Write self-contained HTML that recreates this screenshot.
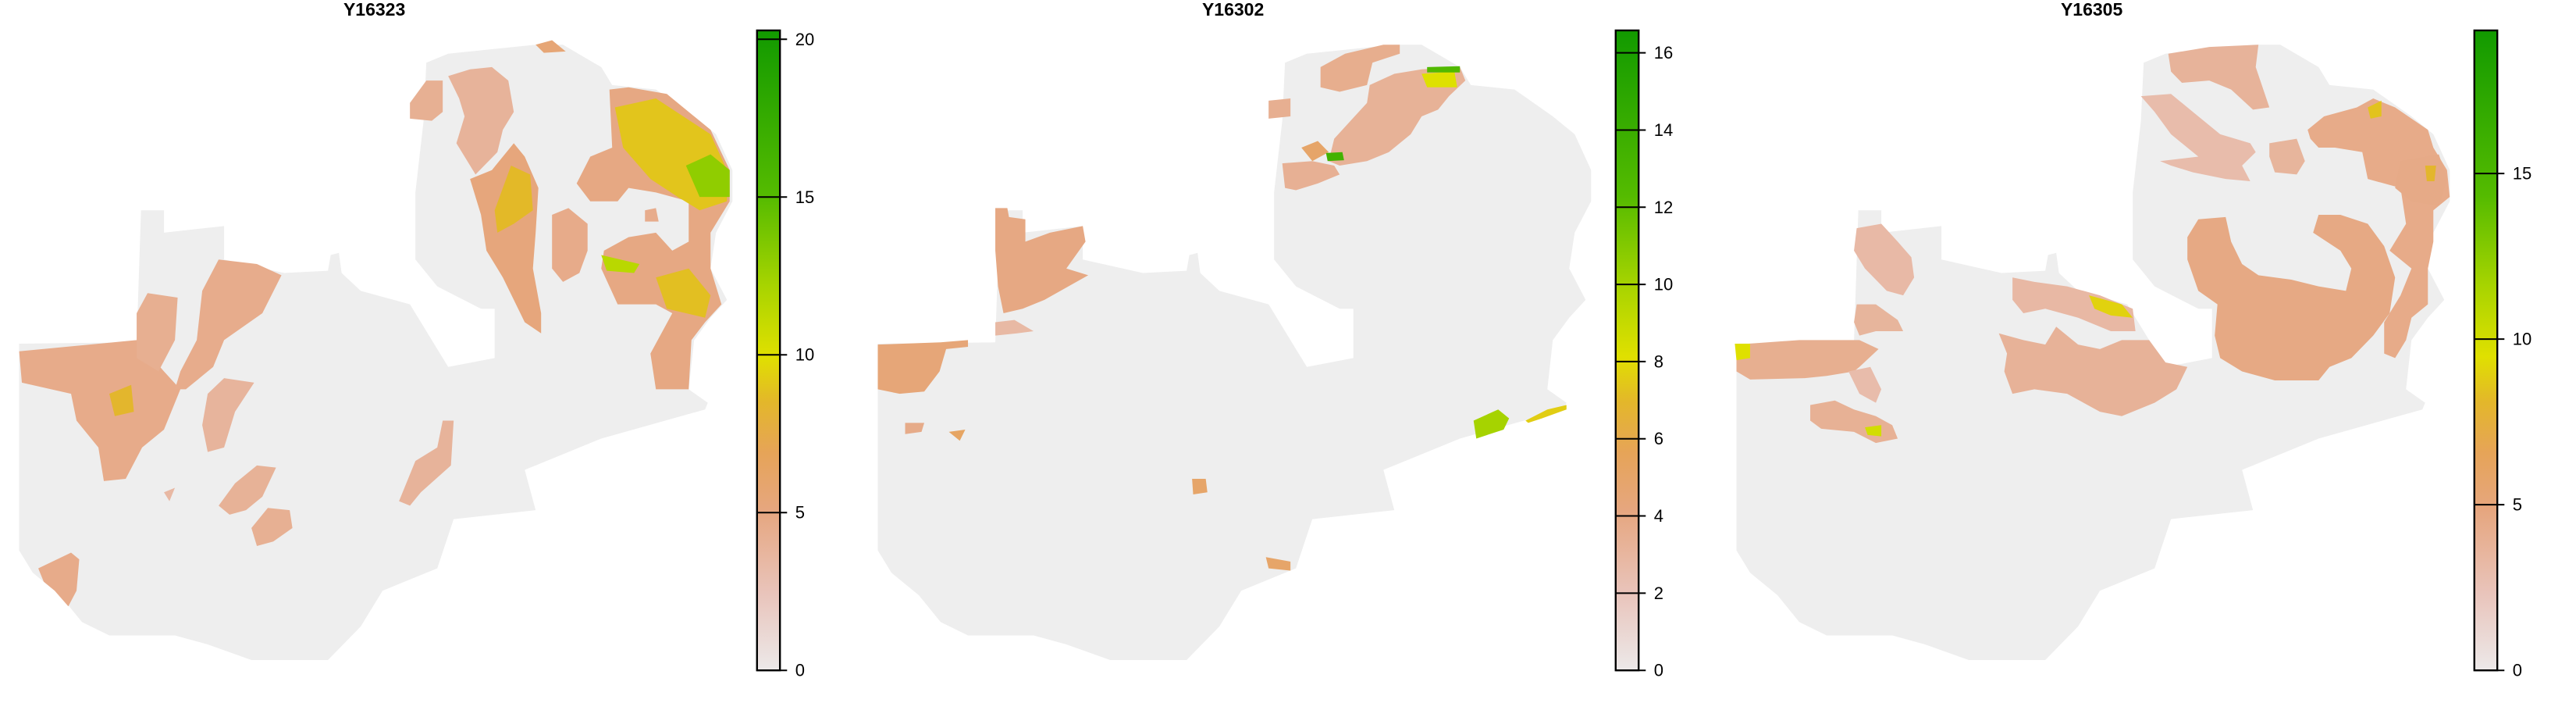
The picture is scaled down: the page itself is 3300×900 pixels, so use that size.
<!DOCTYPE html>
<html><head><meta charset="utf-8">
<style>
html,body{margin:0;padding:0;background:#fff;}
svg{display:block;}
text{font-family:"Liberation Sans",Arial,sans-serif;}
</style></head>
<body>
<svg id="chart" xmlns="http://www.w3.org/2000/svg" width="3300" height="900" viewBox="0 0 3300 900">
<defs id="defs"></defs>
</svg>
<script>
// ---- data ----
const panelTitles = ["Y16323", "Y16302", "Y16305"];
const panelMax = [20.28, 16.58, 19.32];
const ticks1 = [0, 5, 10, 15, 20];
const ticks2 = [0, 2, 4, 6, 8, 10, 12, 14, 16];
const ticks3 = [0, 5, 10, 15];
const countryOutline = [[35,768],[250,765],[258,470],[300,470],[300,520],[410,505],[410,580],[520,610],[600,605],[605,570],[620,565],[625,610],[660,650],[750,680],[770,720],[820,820],[905,800],[905,690],[880,690],[800,640],[760,580],[760,430],[775,270],[780,140],[820,120],[980,100],[1030,100],[1100,150],[1120,190],[1200,200],[1270,260],[1310,300],[1340,380],[1340,450],[1310,520],[1300,600],[1330,670],[1300,710],[1270,760],[1260,870],[1295,900],[1290,915],[1100,980],[980,1040],[960,1050],[980,1140],[830,1160],[800,1270],[700,1320],[660,1400],[600,1475],[460,1475],[380,1440],[320,1420],[200,1420],[150,1390],[110,1330],[60,1280],[35,1230]];
// blobs: [value, polygon]
const blobs1 = [
 [4.6,[[35,785],[250,760],[300,830],[330,870],[300,960],[260,1000],[230,1070],[190,1075],[180,1000],[140,940],[130,880],[40,855]]],
 [4.3,[[250,700],[270,655],[325,665],[320,760],[290,830],[250,800]]],
 [4.5,[[370,650],[400,580],[470,590],[515,615],[480,700],[410,760],[390,820],[340,870],[320,870],[330,830],[360,760]]],
 [3.8,[[380,880],[410,845],[465,855],[430,920],[410,1000],[380,1010],[370,950]]],
 [4.0,[[400,1130],[430,1080],[470,1040],[505,1045],[480,1110],[450,1140],[420,1150]]],
 [4.2,[[460,1180],[490,1135],[530,1140],[535,1180],[500,1210],[470,1220]]],
 [3.9,[[730,1120],[760,1030],[800,1000],[810,940],[830,940],[825,1040],[770,1100],[750,1130]]],
 [4.6,[[70,1270],[130,1235],[145,1250],[140,1320],[125,1355],[100,1320],[80,1300]]],
 [3.5,[[300,1100],[320,1090],[310,1120]]],
 [4.2,[[750,230],[780,180],[810,180],[810,250],[790,270],[750,265]]],
 [3.9,[[820,170],[860,155],[900,150],[930,180],[940,250],[920,290],[910,340],[870,390],[850,350],[835,320],[850,260],[840,220]]],
 [5.2,[[860,400],[900,380],[940,320],[960,350],[985,420],[980,520],[975,600],[990,700],[990,745],[960,720],[920,620],[890,560],[880,480]]],
 [4.6,[[1010,480],[1040,465],[1075,500],[1075,560],[1060,610],[1030,630],[1010,600]]],
 [4.9,[[1055,410],[1080,350],[1120,330],[1115,200],[1150,195],[1220,210],[1260,250],[1300,290],[1335,380],[1335,450],[1300,520],[1300,600],[1320,680],[1290,720],[1265,760],[1260,870],[1200,870],[1190,790],[1230,700],[1200,680],[1130,680],[1100,600],[1105,560],[1150,530],[1200,520],[1230,560],[1260,540],[1260,450],[1200,430],[1150,420],[1130,450],[1080,450]]],
 [5.5,[[980,100],[1010,90],[1035,115],[995,118]]],
 [4.5,[[1180,470],[1200,465],[1205,495],[1180,495]]],
 [9.0,[[1125,240],[1200,220],[1250,260],[1300,300],[1330,380],[1330,450],[1280,470],[1240,440],[1190,400],[1140,330]]],
 [13.0,[[1255,370],[1300,345],[1335,380],[1335,440],[1280,440]]],
 [8.6,[[935,370],[970,390],[975,470],[940,500],[910,520],[905,470]]],
 [11.5,[[1100,570],[1170,590],[1160,610],[1110,605]]],
 [8.8,[[1200,620],[1260,600],[1300,660],[1290,710],[1220,690]]],
 [8.4,[[200,880],[240,860],[245,920],[210,930]]]
];
const blobs2 = [
 [3.6,[[845,150],[890,120],[960,100],[990,100],[990,120],[940,140],[930,190],[880,205],[845,195]]],
 [3.3,[[935,190],[980,165],[1030,155],[1100,150],[1110,180],[1080,215],[1060,245],[1030,260],[1010,300],[970,340],[930,360],[880,370],[860,360],[870,310],[900,270],[930,230]]],
 [3.5,[[750,225],[790,220],[790,260],[750,265]]],
 [3.4,[[775,365],[830,360],[870,370],[880,390],[840,410],[800,425],[780,420]]],
 [5.0,[[810,330],[840,315],[860,340],[830,360]]],
 [8.2,[[1030,165],[1090,160],[1095,195],[1040,195]]],
 [12.5,[[1040,150],[1100,148],[1100,162],[1040,162]]],
 [13.5,[[855,342],[885,340],[888,358],[858,360]]],
 [4.0,[[250,465],[272,465],[275,485],[305,490],[305,540],[350,520],[410,505],[415,540],[380,600],[420,615],[340,670],[300,690],[265,700],[255,640],[250,560]]],
 [2.8,[[250,720],[285,715],[320,740],[290,745],[250,750]]],
 [4.4,[[35,770],[150,765],[200,760],[200,775],[160,780],[148,830],[120,875],[75,880],[35,870]]],
 [5.0,[[610,1070],[635,1070],[638,1100],[612,1105]]],
 [5.2,[[165,965],[195,960],[185,985]]],
 [3.8,[[85,945],[120,945],[115,965],[85,970]]],
 [5.0,[[745,1245],[790,1255],[790,1275],[750,1270]]],
 [10.0,[[1125,940],[1170,915],[1190,935],[1180,960],[1130,980]]],
 [7.6,[[1220,940],[1260,915],[1295,905],[1295,915],[1250,935],[1225,945]]]
];
const blobs3 = [
 [3.7,[[825,120],[900,105],[990,100],[985,150],[1010,240],[980,245],[940,200],[900,180],[850,185],[830,160]]],
 [3.0,[[775,215],[830,210],[870,250],[920,300],[975,320],[985,340],[960,370],[975,405],[930,400],[870,385],[830,370],[810,360],[880,350],[830,300],[800,250]]],
 [4.4,[[1080,290],[1110,260],[1170,240],[1200,220],[1240,240],[1300,290],[1310,330],[1335,380],[1340,440],[1310,470],[1310,540],[1300,600],[1300,680],[1270,710],[1260,760],[1240,800],[1220,790],[1220,720],[1250,660],[1270,600],[1230,560],[1260,500],[1250,420],[1190,400],[1180,340],[1130,330],[1100,330],[1085,310]]],
 [4.6,[[880,490],[930,485],[940,540],[960,590],[990,615],[1050,625],[1100,640],[1150,650],[1160,600],[1140,560],[1090,520],[1100,480],[1140,480],[1190,500],[1220,550],[1240,620],[1230,700],[1200,750],[1160,800],[1120,820],[1100,850],[1020,850],[960,830],[920,800],[910,750],[915,680],[880,650],[860,580],[860,530]]],
 [3.6,[[1010,320],[1060,310],[1075,360],[1060,390],[1020,385],[1010,350]]],
 [4.5,[[1250,360],[1320,345],[1335,400],[1320,460],[1270,450],[1240,420]]],
 [3.8,[[515,745],[560,760],[600,770],[620,730],[660,770],[700,780],[740,760],[790,760],[820,810],[860,820],[840,870],[800,900],[740,930],[700,920],[640,880],[580,870],[540,880],[525,830],[530,790]]],
 [3.3,[[540,620],[580,630],[640,640],[700,660],[760,690],[765,740],[720,740],[660,710],[600,690],[560,700],[540,670]]],
 [3.2,[[255,510],[300,500],[330,540],[355,575],[360,620],[340,660],[310,650],[270,600],[250,560]]],
 [3.6,[[255,680],[290,680],[330,715],[340,740],[290,740],[260,750],[250,720]]],
 [4.1,[[35,770],[150,760],[260,760],[295,780],[260,820],[250,830],[200,840],[160,845],[60,848],[35,830]]],
 [3.0,[[240,830],[280,820],[300,870],[290,900],[260,880]]],
 [3.9,[[170,905],[215,895],[250,915],[290,930],[320,950],[330,980],[290,990],[250,965],[190,958],[170,940]]],
 [9.5,[[32,768],[60,768],[60,800],[35,805]]],
 [10.0,[[270,955],[300,950],[300,975],[275,972]]],
 [9.0,[[680,660],[740,680],[760,710],[720,705],[690,690]]],
 [8.5,[[1190,240],[1215,225],[1215,260],[1195,265]]],
 [8.0,[[1295,370],[1315,370],[1312,405],[1298,405]]]
];
const ramp = [[0,"#ece9e9"],[0.12,"#e9c4bb"],[0.25,"#e6a67f"],[0.34,"#e6a458"],[0.42,"#e3b72a"],[0.49,"#e0e000"],[0.6,"#a8d400"],[0.74,"#55bb00"],[1,"#129a00"]];

// ---- helpers ----
const NS = "http://www.w3.org/2000/svg";
const svg = document.getElementById('chart');
const defs = document.getElementById('defs');
const SX = 0.7002, SY = 0.5729;
const BAR_X0 = 1385, BAR_X1 = 1427, BAR_TOP = 68, BAR_BOT = 1498;
function hex(c){return [parseInt(c.substr(1,2),16),parseInt(c.substr(3,2),16),parseInt(c.substr(5,2),16)];}
function colorAt(f){
  f=Math.max(0,Math.min(1,f));
  for(let i=1;i<ramp.length;i++){
    if(f<=ramp[i][0]){
      const a=ramp[i-1],b=ramp[i];const t=(f-a[0])/(b[0]-a[0]);
      const ca=hex(a[1]),cb=hex(b[1]);
      return "rgb("+ca.map((v,k)=>Math.round(v+(cb[k]-v)*t)).join(",")+")";
    }
  }
  return ramp[ramp.length-1][1];
}
function el(tag, attrs, parent){const e=document.createElementNS(NS,tag);for(const k in attrs)e.setAttribute(k,attrs[k]);parent.appendChild(e);return e;}
function pts(poly){return poly.map(p=>p[0]+","+p[1]).join(" ");}

const grad = el('linearGradient',{id:'ramp',x1:'0',y1:'1',x2:'0',y2:'0'},defs);
ramp.forEach(s=>el('stop',{offset:s[0],'stop-color':s[1]},grad));

const allBlobs=[blobs1,blobs2,blobs3];
const allTicks=[ticks1,ticks2,ticks3];
for(let p=0;p<3;p++){
  const off=p*1100;
  const zmax=panelMax[p];
  const yScale=v=>BAR_BOT-(v/zmax)*(BAR_BOT-BAR_TOP);
  const panel=el('g',{},svg);
  
  
  const g=el('g',{transform:'translate('+off+',0) scale('+SX+','+SY+')'},panel);
  const country=el('polygon',{points:pts(countryOutline),fill:'#eeeeee'},g);
  
  
  allBlobs[p].forEach((b,i)=>{
    const poly=el('polygon',{points:pts(b[1]),fill:colorAt(b[0]/zmax)},g);
    
    
  });
  const bar=el('rect',{x:BAR_X0,y:BAR_TOP,width:BAR_X1-BAR_X0,height:BAR_BOT-BAR_TOP,fill:'url(#ramp)',stroke:'#000','stroke-width':2.4,'vector-effect':'non-scaling-stroke'},g);
  
  
  allTicks[p].forEach(v=>{
    const y=yScale(v);
    const tl=el('line',{x1:BAR_X0,x2:BAR_X1+13,y1:y,y2:y,stroke:'#000','stroke-width':2,'vector-effect':'non-scaling-stroke'},g);
    
    
    const tx=el('text',{x:off+1455*SX,y:y*SY,'font-size':22,'dominant-baseline':'central',fill:'#000'},panel);
    tx.textContent=String(v);
    
    
  });
  const title=el('text',{x:off+685*SX,y:12,'font-size':23,'font-weight':'bold','text-anchor':'middle','dominant-baseline':'central',fill:'#000'},panel);
  title.textContent=panelTitles[p];
  
  
}
</script>
</body></html>
